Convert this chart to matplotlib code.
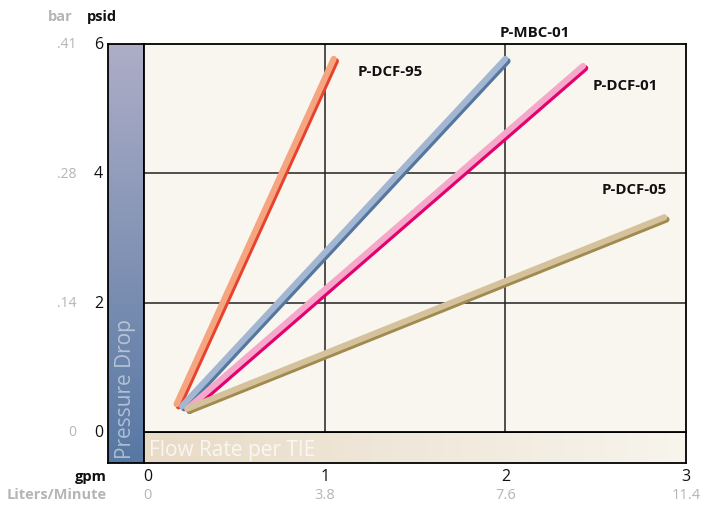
import numpy as np
import matplotlib
matplotlib.use("Agg")
import matplotlib.pyplot as plt
from matplotlib import transforms

plt.rcParams['font.family'] = ['Open Sans', 'DejaVu Sans']

## DATA ##
series = ["P-DCF-95", "P-MBC-01", "P-DCF-01", "P-DCF-05"]
x_start = [0.18, 0.21, 0.24, 0.24]
y_start = [0.43, 0.40, 0.36, 0.36]
x_end = [1.05, 2.00, 2.43, 2.88]
y_end = [5.77, 5.77, 5.66, 3.32]
light_cols = ["#F5A57F", "#A3B6D2", "#F5A8C9", "#D5C29C"]
dark_cols = ["#E8412E", "#55779F", "#E4006E", "#A08A4E"]
label_pos = [(1.18, 5.58), (1.97, 6.18), (2.485, 5.36), (2.535, 3.76)]

gpm_ticks = [0, 1, 2, 3]
lpm_labels = ["0", "3.8", "7.6", "11.4"]
psid_ticks = [0, 2, 4, 6]
bar_labels = ["0", ".14", ".28", ".41"]

W, H = 707, 506
fig = plt.figure(figsize=(W / 100, H / 100), dpi=100)

def fr(x0, y0, x1, y1):
    # pixel box -> figure fraction [left, bottom, width, height]
    return [x0 / W, (H - y1) / H, (x1 - x0) / W, (y1 - y0) / H]

# left gradient bar
axl = fig.add_axes(fr(108, 45, 144, 464))
grad = np.linspace(0, 1, 256).reshape(-1, 1)
top = np.array([0.68, 0.68, 0.78])
bot = np.array([0.34, 0.47, 0.64])
img = top[None, None, :] * (1 - grad[:, :, None]) + bot[None, None, :] * grad[:, :, None]
axl.imshow(img, aspect='auto', extent=[0, 1, 0, 1])
axl.set_xticks([]); axl.set_yticks([])
for s in axl.spines.values():
    s.set_linewidth(1.3)
axl.text(0.5, 0.013, "Pressure Drop", rotation=90, ha='center', va='bottom',
         color='white', alpha=0.5, fontsize=15, transform=axl.transAxes)

# bottom gradient bar
axb = fig.add_axes(fr(144, 433, 686, 464))
gh = np.linspace(0, 1, 256).reshape(1, -1)
left = np.array([0.91, 0.86, 0.78])
right = np.array([0.97, 0.96, 0.93])
img2 = left[None, None, :] * (1 - gh[:, :, None]) + right[None, None, :] * gh[:, :, None]
axb.imshow(img2, aspect='auto', extent=[0, 1, 0, 1])
axb.set_xticks([]); axb.set_yticks([])
for s in axb.spines.values():
    s.set_linewidth(1.3)
axb.text(0.01, 0.42, "Flow Rate per TIE", ha='left', va='center',
         color='white', alpha=0.75, fontsize=15, transform=axb.transAxes)

# main plot
ax = fig.add_axes(fr(144, 45, 686, 433))
ax.set_facecolor("#F9F6F0")
ax.set_xlim(0, 3)
ax.set_ylim(0, 6)
for s in ax.spines.values():
    s.set_linewidth(1.3)
ax.set_xticks([1, 2])
ax.set_yticks([2, 4])
ax.grid(True, color='#222222', linewidth=1.1)
ax.tick_params(length=0, labelbottom=False, labelleft=False)

for i in range(len(series)):
    xs = [x_start[i], x_end[i]]
    ys = [y_start[i], y_end[i]]
    off = transforms.offset_copy(ax.transData, fig=fig, x=2.2, y=-2.2, units='dots')
    ax.plot(xs, ys, color=dark_cols[i], lw=4.4, solid_capstyle='round',
            transform=off, clip_on=False)
    ax.plot(xs, ys, color=light_cols[i], lw=4.4, solid_capstyle='round', clip_on=False)
    ax.text(label_pos[i][0], label_pos[i][1], series[i], fontsize=10.8,
            fontweight='bold', ha='left', va='center', color='#111111', clip_on=False)

# y axis labels
yt = ax.get_yaxis_transform()
for v, b in zip(psid_ticks, bar_labels):
    ax.text(-0.0756, v, str(v), transform=yt, ha='right', va='center',
            fontsize=11.5, color='#111111')
    ax.text(-0.125, v, b, transform=yt, ha='right', va='center',
            fontsize=10, color='#B5B5B5')
ax.text(-0.0775, 1.072, "psid", transform=ax.transAxes, ha='center', va='center',
        fontsize=10.5, fontweight='bold', color='#111111')
ax.text(-0.155, 1.072, "bar", transform=ax.transAxes, ha='center', va='center',
        fontsize=10.5, fontweight='bold', color='#B5B5B5')

# x axis labels
xt = ax.get_xaxis_transform()
for v, l in zip(gpm_ticks, lpm_labels):
    xo = v + 0.02 if v == 0 else v
    ax.text(xo, -0.113, str(v), transform=xt, ha='center', va='center',
            fontsize=11.5, color='#111111')
    ax.text(xo, -0.161, l, transform=xt, ha='center', va='center',
            fontsize=10.5, color='#B5B5B5')
ax.text(-0.068, -0.113, "gpm", transform=ax.transAxes, ha='right', va='center',
        fontsize=10.5, fontweight='bold', color='#111111')
ax.text(-0.068, -0.161, "Liters/Minute", transform=ax.transAxes, ha='right', va='center',
        fontsize=10.5, fontweight='bold', color='#B5B5B5')

fig.savefig("out.png", dpi=100)
